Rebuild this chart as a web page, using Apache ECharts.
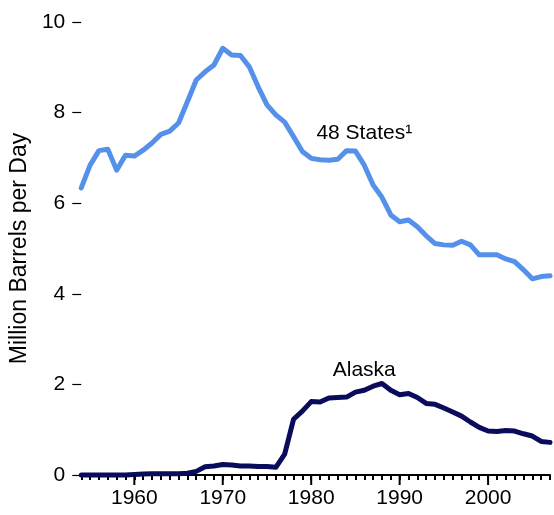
<!DOCTYPE html>
<html>
<head>
<meta charset="utf-8">
<script src="https://cdn.jsdelivr.net/npm/echarts@6/dist/echarts.min.js"></script>
<style>
html,body{margin:0;padding:0;background:#fff;}
#chart{width:554px;height:515px;}
</style>
</head>
<body>
<div id="chart"></div>
<script>
var years = ['1954','1955','1956','1957','1958','1959','1960','1961','1962','1963','1964','1965','1966','1967','1968','1969',
  '1970','1971','1972','1973','1974','1975','1976','1977','1978','1979','1980','1981','1982','1983','1984','1985','1986','1987','1988','1989',
  '1990','1991','1992','1993','1994','1995','1996','1997','1998','1999','2000','2001','2002','2003','2004','2005','2006','2007'];
var lower48 = [6.34,6.84,7.16,7.19,6.73,7.06,7.04,7.17,7.33,7.52,7.59,7.77,8.24,8.72,8.90,9.05,
  9.42,9.27,9.26,9.01,8.57,8.17,7.95,7.79,7.47,7.14,6.99,6.96,6.95,6.97,7.16,7.15,6.84,6.40,6.13,5.74,
  5.59,5.63,5.48,5.28,5.11,5.08,5.07,5.16,5.08,4.86,4.86,4.86,4.77,4.71,4.53,4.33,4.38,4.40];
var alaska = [0,0,0,0,0,0,0.01,0.02,0.03,0.03,0.03,0.03,0.04,0.08,0.18,0.20,
  0.23,0.22,0.20,0.20,0.19,0.19,0.17,0.46,1.23,1.41,1.62,1.61,1.70,1.71,1.72,1.83,1.87,1.96,2.02,1.87,
  1.77,1.80,1.71,1.58,1.56,1.48,1.39,1.30,1.17,1.05,0.97,0.96,0.98,0.97,0.91,0.86,0.74,0.72];
var majorYears = ['1960','1970','1980','1990','2000'];
var yTicks = [0,2,4,6,8,10];
var seriesNames = ['48 States\u00B9','Alaska'];
var labelPos = [['1986', 7.55],['1986', 2.32]];

var FONT = '"Liberation Sans", Arial, Helvetica, sans-serif';

var chart = echarts.init(document.getElementById('chart'), null, {renderer:'canvas'});
chart.setOption({
  animation:false,
  backgroundColor:'#fff',
  grid:{left:80, right:4, top:22, bottom:40},
  xAxis:{
    type:'category', data:years, boundaryGap:false,
    axisLine:{show:true, lineStyle:{color:'#000', width:2}},
    axisTick:{show:true, interval:0, length:5, lineStyle:{color:'#000', width:2}},
    axisLabel:{interval:function(i, v){ return majorYears.indexOf(v) >= 0; },
      color:'#000', fontFamily:FONT, fontSize:21, margin:13},
    splitLine:{show:false}
  },
  yAxis:{
    type:'value', min:0, max:10, interval:2,
    name:'Million Barrels per Day', nameLocation:'middle', nameGap:48, nameRotate:90,
    nameTextStyle:{color:'#000', fontFamily:FONT, fontSize:23},
    axisLine:{show:false},
    axisTick:{show:true, length:9, lineStyle:{color:'#000', width:1.2}},
    axisLabel:{color:'#000', fontFamily:FONT, fontSize:21, margin:16},
    splitLine:{show:false}
  },
  series:[{
    name:seriesNames[0], type:'line', data:lower48,
    showSymbol:false, symbol:'none', clip:false,
    lineStyle:{color:'#5591ea', width:5, join:'round', cap:'round'},
    markPoint:{symbol:'circle', symbolSize:0, data:[{coord:labelPos[0], value:seriesNames[0]}],
      label:{show:true, formatter:seriesNames[0], color:'#000', fontFamily:FONT, fontSize:21, position:'inside'}}
  },{
    name:seriesNames[1], type:'line', data:alaska,
    showSymbol:false, symbol:'none', clip:false,
    lineStyle:{color:'#0b0b5c', width:5, join:'round', cap:'round'},
    markPoint:{symbol:'circle', symbolSize:0, data:[{coord:labelPos[1], value:seriesNames[1]}],
      label:{show:true, formatter:seriesNames[1], color:'#000', fontFamily:FONT, fontSize:21, position:'inside'}}
  },{
    type:'custom', silent:true, clip:false, z:5,
    data:majorYears.map(function(y){ return [y, 0]; }),
    renderItem:function(params, api){
      var p = api.coord([api.value(0), 0]);
      return {type:'line', shape:{x1:p[0], y1:p[1], x2:p[0], y2:p[1]+10},
        style:{stroke:'#000', lineWidth:2}};
    }
  }]
});
</script>
</body>
</html>
